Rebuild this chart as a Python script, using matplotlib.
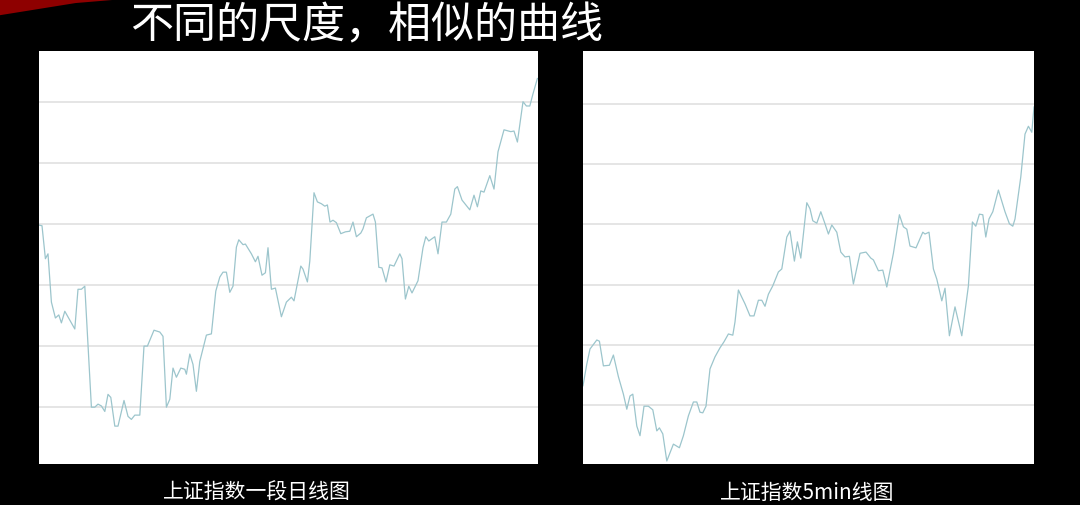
import matplotlib.pyplot as plt
from matplotlib.patches import Polygon

plt.rcParams['font.family'] = ['Noto Sans CJK SC', 'DejaVu Sans']

title = "不同的尺度，相似的曲线"
captions = ["上证指数一段日线图", "上证指数5min线图"]

# daily line (day index, index level)
day_x = [0, 1.5, 3.2, 4.5, 6.2, 8.2, 9.9, 11.2, 12.9, 17.9, 19.5, 21.2, 22.9, 26.2, 27.9,
         29.5, 31.2, 32.9, 34.5, 35.9, 37.9, 39.5, 42.5, 44.5, 46.2, 47.9, 50.4, 52.5, 54.2,
         57.5, 60.4, 62, 63.7, 65.4, 67, 68.7, 70.9, 72.9, 73.7, 75.4, 77, 78.7, 80.4, 83.7,
         86.2, 88.4, 90.4, 92, 93.7, 95.4, 97, 98.7, 99.9, 102, 103.2, 106.2, 108.2, 109.5,
         111.5, 113.2, 114.5, 116.2, 118.2, 121.2, 123.7, 126.2, 127.5, 130.9, 132, 134.2,
         135.4, 137.5, 139.2, 141.2, 142.9, 144.2, 145.5, 147, 148.7, 150.9, 153.2, 155.4,
         157, 158.7, 160.9, 162, 163.7, 167, 168.2, 169.9, 171.5, 173.5, 175.4, 177.5, 180.4,
         181.5, 183.2, 184.9, 186.5, 189.5, 192, 193.4, 194.9, 197.9, 199.5, 201.5, 203.7,
         205.9, 207.9, 209.2, 211.5, 215.4, 217.5, 219.2, 220.9, 222.5, 225.4, 227.5, 229.5,
         232.5, 235.9, 237.5, 239.2, 242, 243.7, 245.4, 247, 249.2]
day_y = [2298, 2297, 2243, 2251, 2172, 2146, 2151, 2138, 2157, 2128, 2193, 2193, 2198, 2000, 2000,
         2005, 2002, 1993, 2021, 2016, 1969, 1969, 2011, 1985, 1980, 1987, 1987, 2100, 2100,
         2126, 2123, 2116, 2000, 2013, 2064, 2049, 2064, 2062, 2054, 2087, 2070, 2026, 2075, 2118,
         2120, 2190, 2213, 2221, 2221, 2188, 2198, 2262, 2274, 2266, 2267, 2251, 2238, 2247,
         2216, 2220, 2261, 2193, 2195, 2148, 2172, 2180, 2174, 2231, 2226, 2205,
         2239, 2351, 2336, 2333, 2329, 2331, 2303, 2306, 2302, 2284, 2287, 2288,
         2303, 2279, 2285, 2292, 2310, 2316, 2303, 2229, 2228, 2205, 2233, 2231, 2251,
         2243, 2177, 2198, 2187, 2207, 2261, 2279, 2272, 2279, 2251, 2303, 2303,
         2316, 2357, 2361, 2339, 2323, 2347, 2328, 2354, 2352, 2379, 2357, 2418,
         2454, 2451, 2452, 2434, 2500, 2493, 2493, 2513, 2538]

# 5-minute line (bar index, index level)
min_x = [0, 1.9, 3.5, 6.9, 8.2, 10.2, 13.2, 15.2, 17.7, 20.2, 21.9, 23.5, 24.9, 26.9, 28.5,
         30.5, 32.7, 34.9, 36.9, 38.2, 39.9, 41.9, 45.2, 48.2, 50.2, 52.7, 55.2, 56.9, 58.5,
         59.9, 61.5, 63.5, 66, 68.5, 70.5, 72.7, 74.9, 76, 77.7, 79.4, 81, 83.5, 85.5, 87.7,
         89.4, 91, 92.7, 94.9, 97.7, 99.4, 101.9, 103.5, 105.7, 107.2, 108.9, 111.9, 113.5,
         114.9, 116.9, 118.9, 121, 122.7, 124.4, 126.9, 128.9, 131, 133.2, 135.2, 138.5,
         141.5, 143.9, 145.2, 147.7, 149.9, 151.9, 155.2, 158.2, 160.2, 161.9, 163.5, 166.5,
         169.9, 171, 173, 175.2, 176.9, 179.4, 181, 183.2, 186, 189.4, 192.7, 194.7, 196.4,
         198.2, 199.9, 201.4, 203, 204.9, 207.7, 211, 213.2, 214.9, 216, 218.9, 221, 222.7,
         224.4, 225.5]
min_y = [2032, 2068, 2093, 2108, 2106, 2065, 2066, 2083, 2047, 2018, 1993, 2015, 2018, 1965, 1949,
         1998, 1998, 1992, 1957, 1962, 1952, 1907, 1935, 1929, 1949, 1982, 2005, 2005, 1988,
         1987, 1998, 2060, 2080, 2095, 2105, 2118, 2116, 2138, 2191, 2179, 2168, 2148, 2148, 2174,
         2174, 2164, 2184, 2198, 2221, 2226, 2279, 2289, 2239, 2271, 2244, 2336, 2326,
         2306, 2302, 2321, 2301, 2284, 2299, 2287, 2254, 2246, 2247, 2201, 2252,
         2254, 2244, 2241, 2223, 2224, 2196, 2252, 2316, 2296, 2292, 2264, 2261,
         2287, 2284, 2287, 2226, 2209, 2173, 2194, 2115, 2163, 2115, 2198, 2304, 2297,
         2317, 2316, 2279, 2309, 2321, 2357, 2321, 2301, 2297, 2309, 2379, 2450, 2463,
         2453, 2495]

grid_levels = [2000, 2100, 2200, 2300, 2400, 2500]

fig = plt.figure(figsize=(10.8, 5.06), dpi=100, facecolor='black')

# red swoosh in the corner
fig.patches.append(Polygon([(0, 1), (0.115, 1), (0.07, 0.992), (0.0, 0.968)],
                           closed=True, transform=fig.transFigure,
                           facecolor='#8e0000', edgecolor='none'))

fig.text(130 / 1080, 1 - 26 / 506, title, color='white', fontsize=31,
         ha='left', va='center', fontweight='light')

ax1 = fig.add_axes([39 / 1080, 41 / 506, 499 / 1080, 413 / 506])
ax2 = fig.add_axes([583 / 1080, 41 / 506, 451 / 1080, 413 / 506])

ax1.plot(day_x, day_y, color='#9cc5cc', lw=0.9)
ax1.set_xlim(0, 249.5)
ax1.set_ylim(1907, 2583)

ax2.plot(min_x, min_y, color='#9cc5cc', lw=0.9)
ax2.set_xlim(0, 225.5)
ax2.set_ylim(1902, 2588)

for ax, cap in zip([ax1, ax2], captions):
    ax.set_facecolor('white')
    for y in grid_levels:
        ax.axhline(y, color='#e0e0e0', lw=1.2, zorder=0)
    ax.set_xticks([])
    ax.set_yticks([])
    for s in ax.spines.values():
        s.set_visible(False)

fig.text(257 / 1080, 1 - 493 / 506, captions[0], color='white', fontsize=15,
         ha='center', va='center')
fig.text(807 / 1080, 1 - 493 / 506, captions[1], color='white', fontsize=15,
         ha='center', va='center')

fig.savefig('out.png', dpi=100, facecolor='black')
